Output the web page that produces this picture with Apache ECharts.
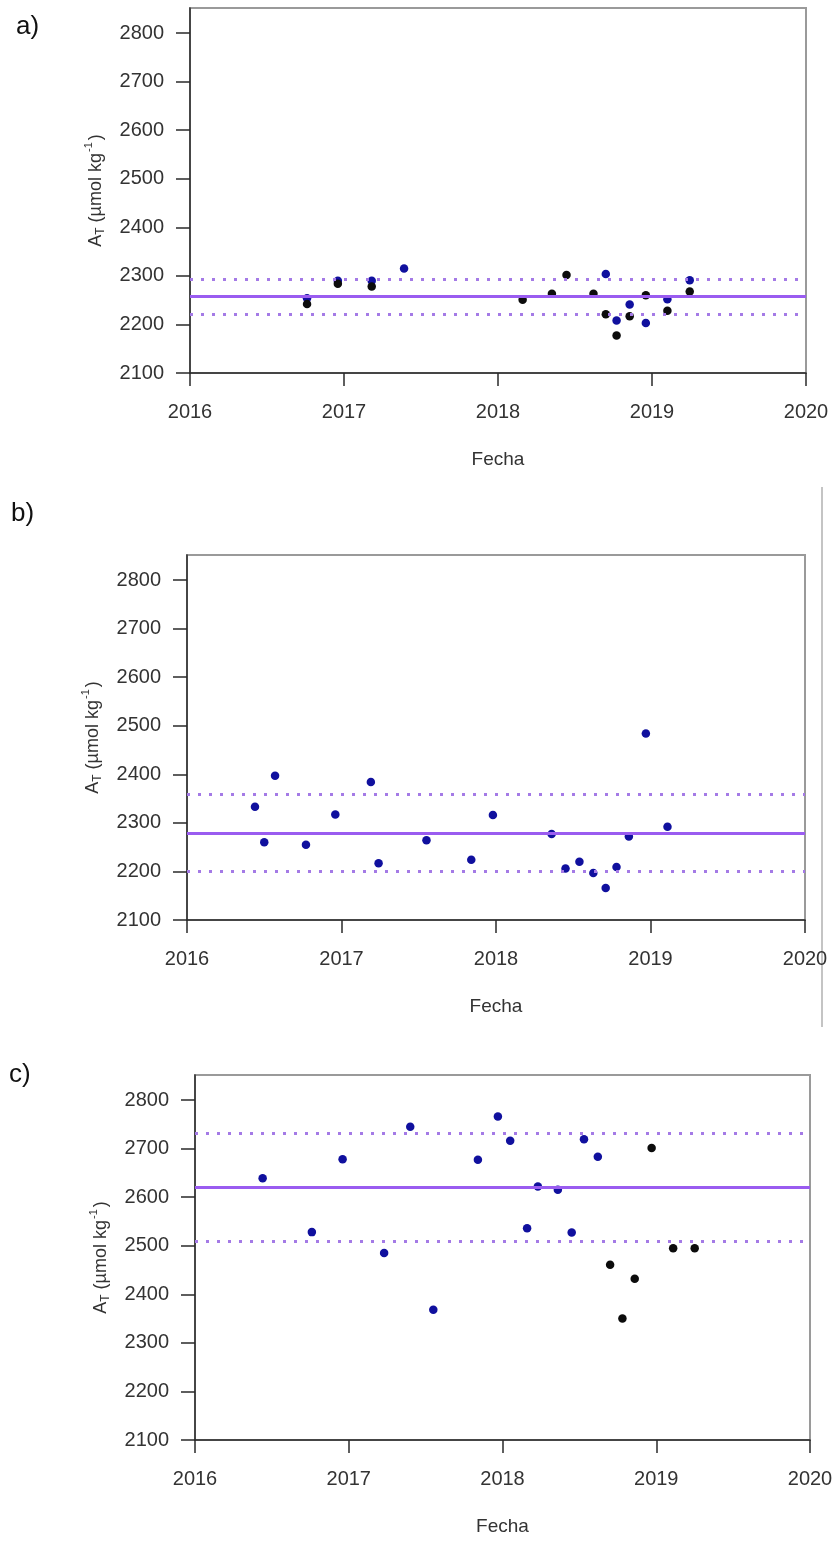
<!DOCTYPE html>
<html>
<head>
<meta charset="utf-8">
<script src="https://cdn.jsdelivr.net/npm/echarts@6/dist/echarts.min.js"></script>
<style>
  html, body { margin: 0; padding: 0; background: #fff; }
  #chart { width: 836px; height: 1542px; }
</style>
</head>
<body>
<div id="chart"></div>
<script>
// Tick values shared by the three panels
const yearTicks = [2016, 2017, 2018, 2019, 2020];
const atTicks = [2100, 2200, 2300, 2400, 2500, 2600, 2700, 2800];

// Panel a) sampling dates (decimal year) and total alkalinity
const aBlueDates = [2016.76, 2016.96, 2017.18, 2017.39, 2018.70, 2018.77, 2018.855, 2018.96, 2019.10, 2019.245];
const aBlueVals  = [2254, 2290, 2290, 2315, 2304, 2208, 2241, 2203, 2252, 2291];
const aBlackDates = [2016.76, 2016.96, 2017.18, 2018.16, 2018.35, 2018.445, 2018.62, 2018.70, 2018.77, 2018.855, 2018.96, 2019.10, 2019.245];
const aBlackVals  = [2242, 2284, 2278, 2251, 2263, 2302, 2263, 2221, 2177, 2217, 2260, 2228, 2268];
const aStats = [2257, 2294, 2220]; // mean, upper, lower

// Panel b)
const bBlueDates = [2016.44, 2016.50, 2016.57, 2016.77, 2016.96, 2017.19, 2017.24, 2017.55, 2017.84, 2017.98,
                    2018.36, 2018.45, 2018.54, 2018.63, 2018.71, 2018.78, 2018.86, 2018.97, 2019.11];
const bBlueVals  = [2333, 2260, 2397, 2255, 2317, 2384, 2217, 2264, 2224, 2316,
                    2277, 2206, 2220, 2197, 2166, 2209, 2272, 2484, 2292];
const bBlackDates = [];
const bBlackVals  = [];
const bStats = [2279, 2358, 2200];

// Panel c)
const cBlueDates = [2016.44, 2016.76, 2016.96, 2017.23, 2017.40, 2017.55, 2017.84, 2017.97, 2018.05, 2018.16,
                    2018.23, 2018.36, 2018.45, 2018.53, 2018.62];
const cBlueVals  = [2639, 2528, 2678, 2485, 2745, 2368, 2677, 2766, 2716, 2536,
                    2622, 2615, 2527, 2719, 2683];
const cBlackDates = [2018.70, 2018.78, 2018.86, 2018.97, 2019.11, 2019.25];
const cBlackVals  = [2461, 2350, 2432, 2701, 2495, 2495];
const cStats = [2621, 2732, 2510];

const FONT = '"Liberation Sans", Arial, Helvetica, sans-serif';
const TXT = '#333';
const BLUE = '#10109e';
const BLACK = '#0c0c0c';
const MEAN = '#9a5cf0';
const LIMIT = '#a47ae6';

const panels = [
  { tag: 'a)', grid: { left: 190, top: 8, width: 616, height: 365 },
    blue: [aBlueDates, aBlueVals], black: [aBlackDates, aBlackVals], stats: aStats,
    tagPos: { left: 11, top: 9 } },
  { tag: 'b)', grid: { left: 187, top: 555, width: 618, height: 365 },
    blue: [bBlueDates, bBlueVals], black: [bBlackDates, bBlackVals], stats: bStats,
    tagPos: { left: 6, top: 496 } },
  { tag: 'c)', grid: { left: 195, top: 1075, width: 615, height: 365 },
    blue: [cBlueDates, cBlueVals], black: [cBlackDates, cBlackVals], stats: cStats,
    tagPos: { left: 4, top: 1057 } }
];

const zip = (xs, ys) => xs.map((x, i) => [x, ys[i]]);

const option = {
  animation: false,
  backgroundColor: '#fff',
  title: [],
  grid: [],
  xAxis: [],
  yAxis: [],
  series: [],
  graphic: [
    // thin separator at the right of panel b
    { type: 'line', shape: { x1: 822, y1: 487, x2: 822, y2: 1027 },
      style: { stroke: '#c4c4c4', lineWidth: 2 } }
  ]
};

panels.forEach((p, i) => {
  option.title.push({
    text: p.tag, left: p.tagPos.left, top: p.tagPos.top,
    textStyle: { fontFamily: FONT, fontSize: 26, fontWeight: 'normal', color: '#111' }
  });
  option.grid.push(Object.assign({
    show: true, borderColor: '#9a9a9a', borderWidth: 2, backgroundColor: '#fff'
  }, p.grid));
  option.xAxis.push({
    gridIndex: i, type: 'value', min: 2016, max: 2020,
    name: 'Fecha', nameLocation: 'middle', nameGap: 77,
    nameTextStyle: { fontFamily: FONT, fontSize: 19, color: TXT },
    axisLine: { show: true, onZero: false, lineStyle: { color: '#2a2a2a', width: 1.5 } },
    axisTick: { show: true, inside: false, length: 13, customValues: yearTicks,
                lineStyle: { color: '#2a2a2a', width: 1.5 } },
    axisLabel: { customValues: yearTicks, margin: 29, fontFamily: FONT, fontSize: 20, color: TXT,
                 formatter: v => String(Math.round(v)) },
    splitLine: { show: false }
  });
  option.yAxis.push({
    gridIndex: i, type: 'value', min: 2100, max: 2851.5,
    name: '{a|A}{t|T}{a| (µmol kg}{s|-1}{a|)}',
    nameLocation: 'middle', nameGap: 78, nameRotate: 90,
    nameTextStyle: {
      fontFamily: FONT, fontSize: 18, color: TXT,
      rich: {
        a: { fontFamily: FONT, fontSize: 18, color: TXT, lineHeight: 26, verticalAlign: 'middle' },
        t: { fontFamily: FONT, fontSize: 12, color: TXT, lineHeight: 26, verticalAlign: 'bottom', padding: [0, 0, 2, 0] },
        s: { fontFamily: FONT, fontSize: 11, color: TXT, lineHeight: 26, verticalAlign: 'top', padding: [1, 2, 0, 1] }
      }
    },
    axisLine: { show: true, onZero: false, lineStyle: { color: '#2a2a2a', width: 1.5 } },
    axisTick: { show: true, inside: false, length: 14, customValues: atTicks,
                lineStyle: { color: '#2a2a2a', width: 1.5 } },
    axisLabel: { customValues: atTicks, margin: 26, fontFamily: FONT, fontSize: 20, color: TXT,
                 formatter: v => String(Math.round(v)) },
    splitLine: { show: false }
  });

  const [mean, upper, lower] = p.stats;
  // reference lines: mean (solid) and limits (dotted)
  option.series.push({
    type: 'scatter', xAxisIndex: i, yAxisIndex: i, data: [], z: 1,
    markLine: {
      silent: true, symbol: ['none', 'none'], label: { show: false },
      data: [
        { yAxis: mean,  lineStyle: { color: MEAN, width: 3, type: 'solid', opacity: 1 } },
        { yAxis: upper, lineStyle: { color: LIMIT, width: 3, type: [3, 8], opacity: 1 } },
        { yAxis: lower, lineStyle: { color: LIMIT, width: 3, type: [3, 8], opacity: 1 } }
      ]
    }
  });
  option.series.push({
    type: 'scatter', xAxisIndex: i, yAxisIndex: i, z: 3,
    symbol: 'circle', symbolSize: 8.5,
    itemStyle: { color: BLUE, opacity: 1 },
    data: zip(p.blue[0], p.blue[1])
  });
  option.series.push({
    type: 'scatter', xAxisIndex: i, yAxisIndex: i, z: 4,
    symbol: 'circle', symbolSize: 8.5,
    itemStyle: { color: BLACK, opacity: 1 },
    data: zip(p.black[0], p.black[1])
  });
});

const chart = echarts.init(document.getElementById('chart'), null, { renderer: 'canvas' });
chart.setOption(option);
</script>
</body>
</html>
